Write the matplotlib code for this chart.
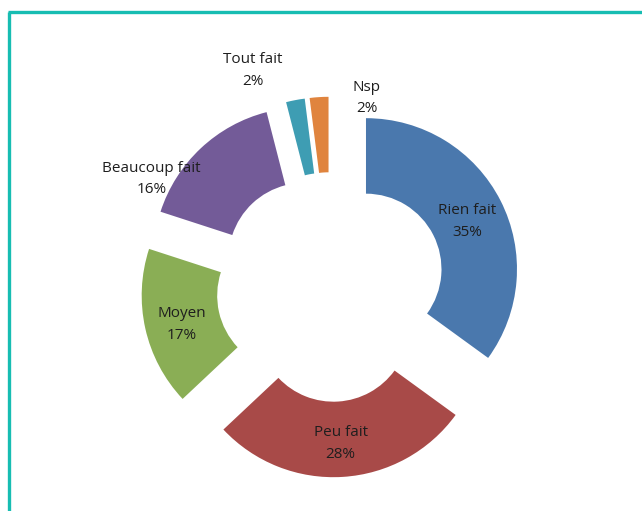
import matplotlib
matplotlib.use('Agg')
import matplotlib.pyplot as plt
import numpy as np
from matplotlib.lines import Line2D

# Survey answers, clockwise from 12 o'clock
categories = ['Rien fait', 'Peu fait', 'Moyen', 'Beaucoup fait', 'Tout fait', 'Nsp']
shares = [35, 28, 17, 16, 2, 2]
colors = ['#4A78AD', '#A84A48', '#8AAE55', '#735B98', '#3E9DB3', '#E0843E']

plt.rcParams['font.family'] = ['Open Sans', 'DejaVu Sans']

W, H = 642, 511
fig = plt.figure(figsize=(W / 100, H / 100), dpi=100)
ax = fig.add_axes([0, 0, 1, 1])

explode = 0.26
ring = 0.50
wedges, _ = ax.pie(shares, colors=colors, startangle=90, counterclock=False,
                   explode=[explode] * len(shares), radius=1.0,
                   wedgeprops=dict(width=ring, edgecolor='none'))

# donut centre in pixels, one data unit = outer radius (pie() resets limits, so set after)
R_PX = 151
cx, cy = 331, 287
ax.set_xlim(-cx / R_PX, (W - cx) / R_PX)
ax.set_ylim(-(H - cy) / R_PX, cy / R_PX)
ax.set_aspect('equal')
ax.axis('off')

# big slices get their label mid-ring; small ones sit outside at (angle deg, radius)
outside = {3: (148.0, 1.40), 4: (109.5, 1.55), 5: (79.5, 1.30)}
mid_r = explode + 1.0 - ring / 2
drop = 4 / R_PX
for i, w in enumerate(wedges):
    if i in outside:
        ang, r = outside[i]
        theta = np.deg2rad(ang)
    else:
        theta = np.deg2rad((w.theta1 + w.theta2) / 2)
        r = mid_r
    ax.text(r * np.cos(theta), r * np.sin(theta) - drop, f'{categories[i]}\n{shares[i]}%',
            ha='center', va='center', fontsize=11, color='#1E1E1E', linespacing=1.6)

# teal frame along the left and top edges
teal = '#17BDB2'
fig.add_artist(Line2D([9 / W, 9 / W], [0, 1 - 12 / H], transform=fig.transFigure,
                      color=teal, lw=2.4, solid_capstyle='butt'))
fig.add_artist(Line2D([8 / W, 1], [1 - 12.5 / H, 1 - 12.5 / H], transform=fig.transFigure,
                      color=teal, lw=2.4, solid_capstyle='butt'))

fig.savefig('out.png', dpi=100, facecolor='white')
